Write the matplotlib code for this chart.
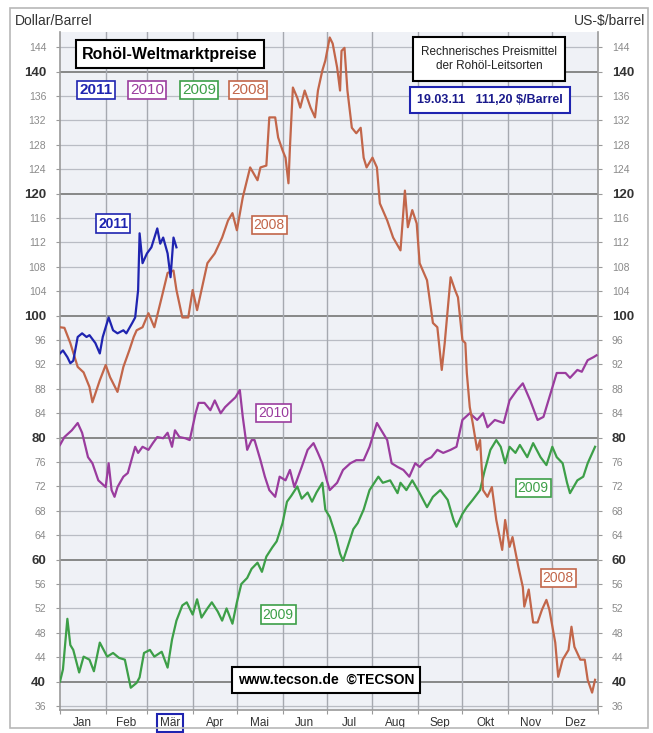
import matplotlib.pyplot as plt
from matplotlib.patches import Rectangle

plt.rcParams['font.family'] = ['Liberation Sans', 'DejaVu Sans']

# ---- data (day of year, price in US-$/barrel) ----
days_2008 = [0, 3, 7, 12, 16, 20, 22, 27, 31, 34, 39, 43, 47, 50, 52, 56, 60, 64, 69, 73,
             77, 79, 83, 87, 90, 93, 96, 100, 105, 110, 114, 117, 120, 124, 129, 134, 136, 140,
             142, 146, 148, 151, 153, 155, 156, 158, 161, 163, 166, 170, 173, 175, 178, 180,
             183, 185, 188, 190, 191, 193, 195, 198, 201, 204, 206, 208, 212, 215, 217, 222,
             226, 231, 234, 236, 239, 242, 244, 249, 253, 256, 259, 261, 265, 268, 270, 273,
             275, 276, 278, 280, 283, 285, 287, 290, 293, 296, 300, 302, 305, 307, 311, 314,
             315, 318, 321, 324, 327, 330, 332, 336, 338, 341, 345, 347, 349, 353, 356, 358,
             361, 363]
price_2008 = [98.1, 98.0, 95.5, 91.6, 90.7, 88.3, 85.8, 89.4, 91.9, 89.9, 87.5, 91.6, 94.3, 96.5,
              97.6, 98.1, 100.4, 98.1, 103.0, 107.0, 107.4, 104.2, 99.7, 99.7, 104.2, 100.9,
              104.2, 108.6, 110.2, 112.8, 115.6, 116.8, 114.0, 119.4, 124.3, 122.2, 124.3,
              124.6, 132.5, 132.5, 129.2, 127.1, 125.9, 121.7, 127.6, 137.4, 135.7, 134.1,
              136.9, 134.1, 132.5, 136.9, 140.2, 141.8, 145.6, 144.6, 140.7, 136.9, 143.4,
              143.9, 136.9, 130.8, 129.9, 130.8, 125.9, 124.3, 125.9, 124.3, 118.4, 115.6,
              112.8, 110.7, 120.5, 114.5, 117.3, 115.1, 108.6, 105.8, 98.8, 98.1, 91.1, 95.5,
              106.3, 104.2, 103.0, 96.0, 95.5, 90.6, 85.0, 82.4, 78.0, 79.6, 71.4, 70.3, 71.9,
              66.5, 61.6, 66.5, 62.1, 63.7, 58.8, 55.5, 52.3, 55.1, 49.7, 49.7, 51.8, 53.4,
              51.8, 46.4, 40.8, 43.6, 45.2, 49.0, 45.7, 43.6, 43.6, 40.3, 38.2, 40.3]

days_2009 = [0, 2, 5, 7, 9, 13, 16, 20, 23, 27, 32, 36, 40, 44, 48, 52, 54, 57, 61, 64, 69,
             73, 76, 79, 83, 86, 90, 93, 96, 100, 103, 107, 110, 113, 117, 120, 123, 127, 130,
             134, 137, 140, 144, 147, 151, 154, 157, 161, 164, 168, 171, 174, 178, 180, 183,
             187, 190, 192, 195, 199, 202, 206, 210, 216, 219, 224, 229, 231, 235, 239, 244,
             249, 253, 258, 263, 267, 269, 273, 276, 280, 285, 288, 292, 296, 299, 302, 305,
             309, 312, 317, 321, 326, 330, 334, 337, 341, 344, 346, 351, 355, 358, 363]
price_2009 = [40.0, 42.0, 50.3, 46.0, 45.2, 41.5, 44.1, 43.6, 41.7, 46.4, 44.1, 44.7, 43.9,
              43.6, 39.0, 39.8, 40.7, 44.7, 45.2, 44.1, 44.9, 42.3, 46.9, 50.0, 52.5, 53.0,
              51.0, 53.5, 50.5, 52.0, 53.0, 51.5, 50.0, 52.0, 49.5, 53.0, 56.0, 57.0, 58.5,
              59.5, 58.0, 60.5, 62.0, 63.0, 66.0, 69.5, 70.5, 72.0, 70.0, 71.0, 69.5, 71.0,
              72.6, 68.2, 67.0, 64.0, 61.0, 59.8, 62.0, 65.0, 66.0, 68.2, 71.4, 73.6, 72.6,
              73.0, 70.9, 72.6, 71.4, 73.0, 70.9, 68.6, 70.3, 71.4, 69.8, 66.5, 65.4, 67.5,
              68.6, 69.8, 71.4, 74.5, 78.0, 79.6, 78.5, 75.8, 78.5, 77.5, 78.8, 76.8, 79.1,
              76.8, 75.5, 78.5, 76.8, 75.8, 72.6, 70.9, 73.0, 73.6, 75.8, 78.5]

days_2010 = [0, 3, 8, 12, 15, 19, 22, 26, 31, 33, 35, 37, 39, 43, 46, 51, 53, 56, 60, 63, 66,
             70, 73, 76, 78, 81, 85, 88, 92, 94, 98, 102, 105, 109, 112, 115, 119, 122, 124,
             127, 130, 132, 136, 139, 142, 146, 149, 153, 156, 159, 164, 168, 172, 175, 178,
             181, 183, 188, 192, 197, 201, 206, 210, 215, 218, 222, 225, 229, 233, 237, 241,
             244, 248, 252, 256, 260, 265, 269, 273, 278, 283, 287, 290, 295, 301, 305, 310,
             314, 319, 324, 328, 332, 337, 343, 346, 351, 354, 358, 362, 364]
price_2010 = [78.8, 80.1, 81.2, 82.4, 80.8, 76.8, 75.8, 73.0, 71.9, 75.8, 71.4, 70.3, 71.9,
              73.6, 74.2, 78.5, 77.5, 78.5, 78.0, 79.1, 80.1, 79.9, 80.8, 78.5, 81.2, 80.1,
              79.9, 79.6, 84.0, 85.7, 85.7, 84.5, 86.1, 84.0, 85.0, 85.7, 86.6, 87.8, 83.4,
              78.0, 79.6, 79.6, 76.3, 73.6, 71.4, 70.3, 73.6, 73.0, 74.7, 71.9, 75.2, 78.0,
              79.1, 77.5, 75.8, 73.0, 71.4, 72.6, 74.7, 75.8, 76.3, 76.3, 78.5, 82.4, 81.2,
              79.6, 75.8, 75.2, 74.7, 73.6, 75.8, 75.2, 76.3, 76.8, 78.0, 77.5, 78.0, 78.5,
              82.9, 84.0, 82.9, 84.0, 81.7, 82.9, 82.4, 86.1, 87.8, 88.9, 86.1, 82.9, 83.4,
              86.6, 90.6, 90.6, 89.8, 91.1, 90.8, 92.7, 93.2, 93.5]

days_2011 = [0, 2, 5, 7, 9, 12, 15, 18, 20, 24, 27, 29, 33, 36, 39, 43, 45, 49, 51, 53, 54,
             56, 59, 62, 66, 68, 70, 73, 75, 77, 79]
price_2011 = [93.8, 94.3, 93.2, 92.2, 92.6, 96.5, 97.1, 96.5, 96.8, 95.5, 93.8, 96.5, 99.7,
              97.6, 97.1, 97.6, 97.1, 98.8, 99.7, 104.2, 113.5, 108.6, 110.2, 111.2, 114.3,
              111.8, 112.8, 110.2, 106.3, 112.8, 111.2]

month_starts = [0, 31, 59, 90, 120, 151, 181, 212, 243, 273, 304, 334, 365]
month_names = ['Jan', 'Feb', 'Mär', 'Apr', 'Mai', 'Jun', 'Jul', 'Aug', 'Sep', 'Okt', 'Nov', 'Dez']
y_ticks = list(range(36, 145, 4))

c2011 = '#1f24b0'
c2010 = '#9a3c9e'
c2009 = '#3d9f48'
c2008 = '#c2664a'

W, H = 653, 733
fig = plt.figure(figsize=(W / 100, H / 100), dpi=100)


def px(x, y):
    return x / W, 1 - y / H


fig.patches.append(Rectangle(px(10, 728), 638 / W, 720 / H, transform=fig.transFigure,
                             fill=False, ec='#b8b8b8', lw=1.2))

ax = fig.add_axes([60 / W, 1 - 710 / H, 538 / W, 678 / H])
ax.set_facecolor('#eff1f6')
ax.set_xlim(0, 365)
ax.set_ylim(35.35, 146.5)

for v in y_ticks:
    if v % 20 == 0:
        ax.axhline(v, color='#7f7f7f', lw=1.3, zorder=1)
    else:
        ax.axhline(v, color='#b9bcc4', lw=0.9, zorder=1)
for d in month_starts[1:-1]:
    ax.axvline(d, color='#a6a9b0', lw=1.0, zorder=1)

ax.plot(days_2009, price_2009, color=c2009, lw=1.6, zorder=3)
ax.plot(days_2010, price_2010, color=c2010, lw=1.6, zorder=3)
ax.plot(days_2008, price_2008, color=c2008, lw=1.6, zorder=4)
ax.plot(days_2011, price_2011, color=c2011, lw=1.6, zorder=5)

for s in ['left', 'right', 'bottom']:
    ax.spines[s].set_color('#9a9a9a')
    ax.spines[s].set_linewidth(1.2)
ax.spines['top'].set_visible(False)

ax.set_yticks(y_ticks)
ax.set_yticklabels([str(v) for v in y_ticks])
ax.tick_params(axis='y', left=True, right=True, labelleft=True, labelright=True,
               length=3, color='#9a9a9a', pad=7)
for t in ax.yaxis.get_major_ticks():
    for lab in (t.label1, t.label2):
        v = int(lab.get_text())
        if v % 20 == 0:
            lab.set_fontweight('bold')
            lab.set_fontsize(9.5)
            lab.set_color('#333333')
        else:
            lab.set_fontsize(7.5)
            lab.set_color('#8a8a8a')

ax.set_xticks(month_starts)
ax.set_xticklabels([])
ax.set_xticks([(a + b) / 2 for a, b in zip(month_starts[:-1], month_starts[1:])], minor=True)
ax.set_xticklabels(month_names, minor=True, fontsize=8.5, color='#333333')
ax.tick_params(axis='x', which='major', length=3, color='#9a9a9a')
ax.tick_params(axis='x', which='minor', length=0, pad=5)
ax.get_xticklabels(minor=True)[2].set_bbox(dict(boxstyle='square,pad=0.25', fc='white',
                                                  ec='#1f24b0', lw=1.5))

# axis captions
fig.text(*px(15, 21), 'Dollar/Barrel', fontsize=10, color='#333333', va='center', ha='left')
fig.text(*px(645, 21), 'US-$/barrel', fontsize=10, color='#333333', va='center', ha='right')

# title and legend boxes
fig.text(*px(170, 54), 'Rohöl-Weltmarktpreise', fontsize=11.5, fontweight='bold',
         ha='center', va='center',
         bbox=dict(boxstyle='square,pad=0.4', fc='white', ec='black', lw=1.5))
legend_items = [('2011', c2011, 'bold', 96), ('2010', c2010, 'normal', 147),
                ('2009', c2009, 'normal', 199), ('2008', c2008, 'normal', 248)]
for txt, col, fw, xc in legend_items:
    fig.text(*px(xc, 90), txt, fontsize=11, color=col, fontweight=fw, ha='center',
             va='center', bbox=dict(boxstyle='square,pad=0.15', fc='white', ec=col, lw=1.2))

fig.text(*px(489, 59), 'Rechnerisches Preismittel\nder Rohöl-Leitsorten', fontsize=8.5,
         ha='center', va='center', color='#222222', linespacing=1.3,
         bbox=dict(boxstyle='square,pad=0.7', fc='white', ec='black', lw=1.5))
fig.text(*px(490, 100), '19.03.11   111,20 $/Barrel', fontsize=9, fontweight='bold',
         color='#1a1a8c', ha='center', va='center',
         bbox=dict(boxstyle='square,pad=0.55', fc='white', ec='#1f24b0', lw=1.5))

fig.text(*px(326, 680), 'www.tecson.de  ©TECSON', fontsize=10, fontweight='bold',
         ha='center', va='center',
         bbox=dict(boxstyle='square,pad=0.45', fc='white', ec='black', lw=1.5))

# in-plot series labels
series_labels = [('2011', c2011, 'bold', 36, 115.1), ('2008', c2008, 'normal', 142, 114.8),
                 ('2010', c2010, 'normal', 145, 84.0), ('2009', c2009, 'normal', 321, 71.8),
                 ('2009', c2009, 'normal', 148, 51.0), ('2008', c2008, 'normal', 338, 57.0)]
for txt, col, fw, d, v in series_labels:
    ax.text(d, v, txt, fontsize=10, color=col, fontweight=fw, ha='center', va='center',
            zorder=6, bbox=dict(boxstyle='square,pad=0.15', fc='white', ec=col, lw=1.2))

fig.savefig('out.png', dpi=100)
